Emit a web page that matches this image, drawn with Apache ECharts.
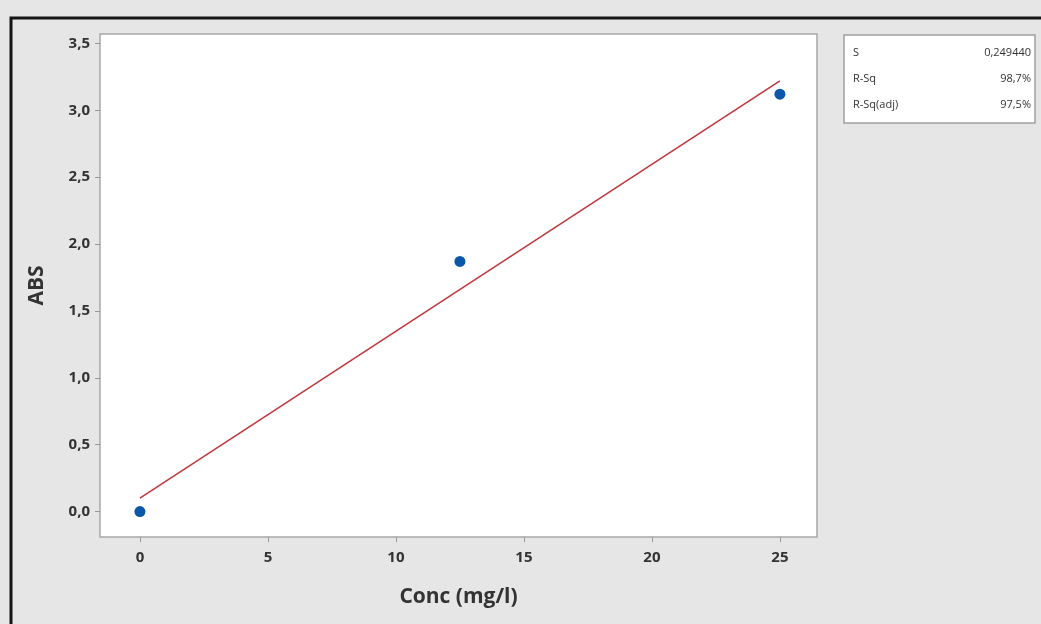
<!DOCTYPE html>
<html>
<head>
<meta charset="utf-8">
<script src="https://cdn.jsdelivr.net/npm/echarts@6/dist/echarts.min.js"></script>
<style>
  html, body { margin: 0; padding: 0; background: #e6e6e6; }
  #chart { width: 1041px; height: 624px; }
</style>
</head>
<body>
<div id="chart"></div>
<script>
// measured points
const conc = [0, 12.5, 25];
const abs = [0.0, 1.87, 3.12];
// fitted line at its two ends
const fitX = [0, 25];
const fitY = [0.10, 3.22];
// tick positions
const xTicks = [0, 5, 10, 15, 20, 25];
const yTicks = [0, 0.5, 1, 1.5, 2, 2.5, 3, 3.5];
// summary box
const statNames = ['S', 'R-Sq', 'R-Sq(adj)'];
const statValues = ['0,249440', '98,7%', '97,5%'];

const font = '"Open Sans", "DejaVu Sans", sans-serif';
const comma = v => String(v).replace('.', ',');

const chart = echarts.init(document.getElementById('chart'));

const statText = [];
statNames.forEach((name, i) => {
    statText.push({
        type: 'text', left: 853, top: 47 + i * 26,
        style: { text: name, font: '11px ' + font, fill: '#333' }
    });
    statText.push({
        type: 'text', right: 10, top: 47 + i * 26,
        style: { text: statValues[i], font: '11px ' + font, fill: '#333', align: 'right' }
    });
});

chart.setOption({
    backgroundColor: '#e6e6e6',
    animation: false,
    grid: {
        left: 100, top: 34, right: 224, bottom: 87,
        show: true, backgroundColor: '#fff', borderColor: '#a8a8a8', borderWidth: 1.5
    },
    xAxis: {
        type: 'value', min: -1.56, max: 26.45,
        name: 'Conc (mg/l)', nameLocation: 'middle', nameGap: 50,
        nameTextStyle: { fontFamily: font, fontWeight: 'bold', fontSize: 21, color: '#333' },
        axisLine: { show: false, onZero: false },
        splitLine: { show: false },
        axisTick: { show: true, length: 5, lineStyle: { color: '#999' }, customValues: xTicks },
        axisLabel: {
            customValues: xTicks, margin: 13, formatter: comma,
            fontFamily: font, fontWeight: 'bold', fontSize: 15, color: '#333'
        }
    },
    yAxis: {
        type: 'value', min: -0.19, max: 3.57,
        name: 'ABS', nameLocation: 'middle', nameGap: 52,
        nameTextStyle: { fontFamily: font, fontWeight: 'bold', fontSize: 21, color: '#333' },
        axisLine: { show: false, onZero: false },
        splitLine: { show: false },
        axisTick: { show: true, length: 5, lineStyle: { color: '#999' }, customValues: yTicks },
        axisLabel: {
            customValues: yTicks, margin: 10,
            formatter: v => v.toFixed(1).replace('.', ','),
            fontFamily: font, fontWeight: 'bold', fontSize: 15, color: '#333'
        }
    },
    series: [
        {
            type: 'line', data: fitX.map((x, i) => [x, fitY[i]]),
            symbol: 'none', lineStyle: { color: '#c0393f', width: 1.6 }, z: 2
        },
        {
            type: 'scatter', data: conc.map((x, i) => [x, abs[i]]),
            symbolSize: 11, itemStyle: { color: '#0a56a8', opacity: 1 }, z: 3
        }
    ],
    graphic: [
        {
            type: 'polyline', shape: { points: [[11, 624], [11, 18], [1041, 18]] },
            style: { stroke: '#151515', lineWidth: 3, fill: null }
        },
        {
            type: 'rect', shape: { x: 844, y: 35, width: 191, height: 88 },
            style: { fill: '#fff', stroke: '#a0a0a0', lineWidth: 1.5 }
        },
        ...statText
    ]
});
</script>
</body>
</html>
